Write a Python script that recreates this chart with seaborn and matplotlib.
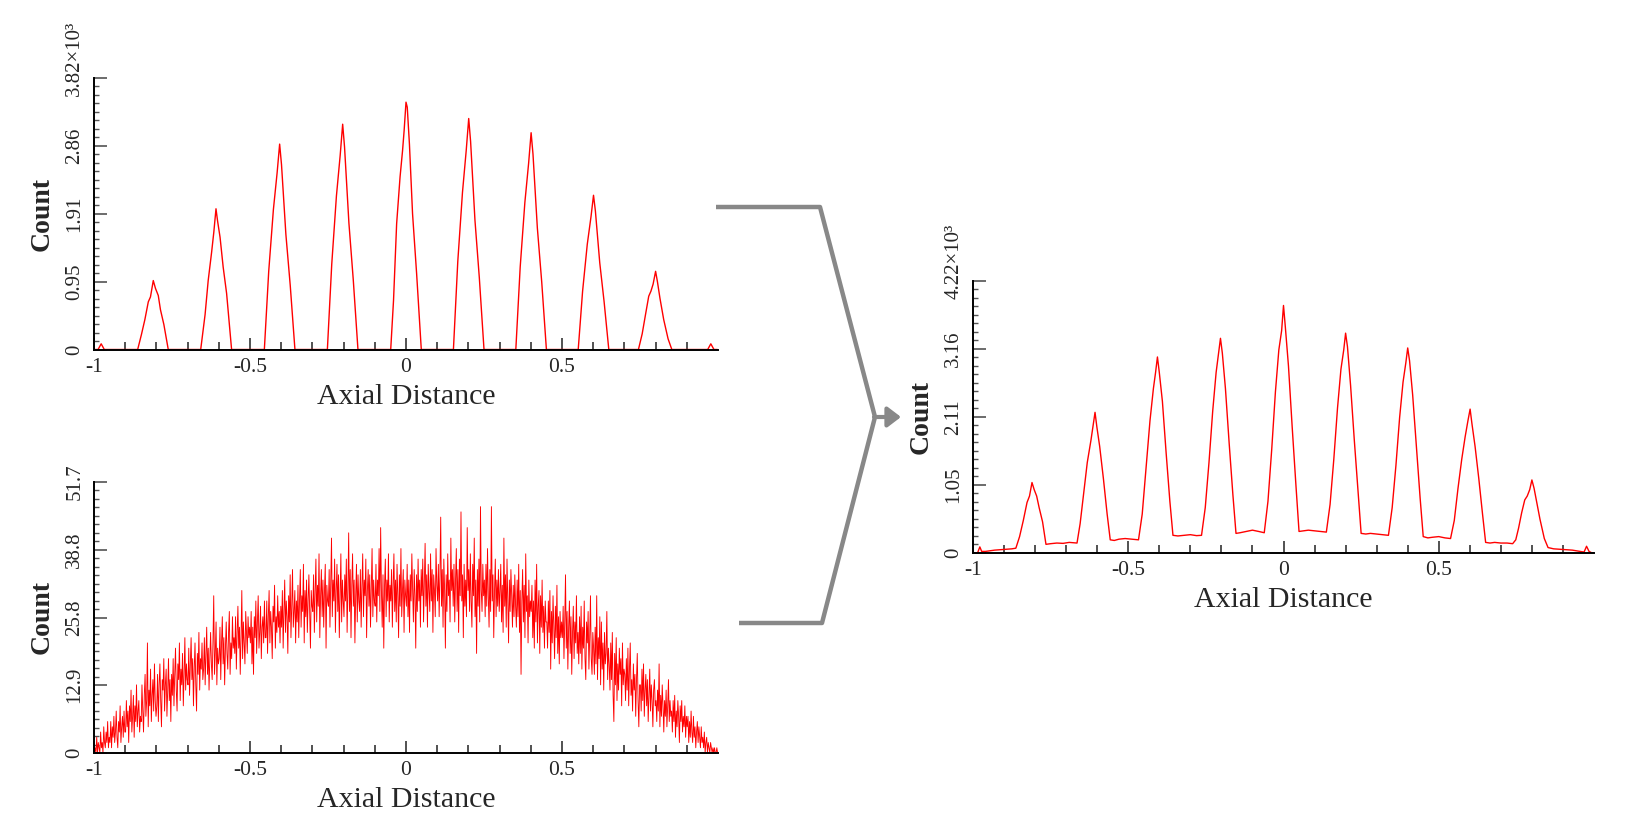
import numpy as np
import pandas as pd
import matplotlib
matplotlib.use("Agg")
import matplotlib.pyplot as plt
from matplotlib.lines import Line2D
from matplotlib.patches import FancyArrowPatch
from matplotlib.ticker import FixedLocator, AutoMinorLocator, NullFormatter
import seaborn as sns

# ---------------- data ----------------
# Top-left: peaked distribution (counts in units of 10^3)
peaks_x = [-1.0, -0.987, -0.977, -0.967,
           -0.860, -0.848, -0.837, -0.826, -0.819, -0.810, -0.803, -0.794, -0.787, -0.776, -0.762,
           -0.658, -0.644, -0.634, -0.623, -0.616, -0.609, -0.604, -0.596, -0.586, -0.575, -0.559,
           -0.454, -0.440, -0.425, -0.413, -0.405, -0.399, -0.385, -0.371, -0.356,
           -0.252, -0.238, -0.223, -0.211, -0.203, -0.197, -0.183, -0.169, -0.154,
           -0.049, -0.040, -0.030, -0.019, -0.011, -0.006, 0.0, 0.004, 0.011, 0.021, 0.034, 0.049,
           0.152, 0.166, 0.181, 0.193, 0.201, 0.207, 0.221, 0.235, 0.250,
           0.352, 0.366, 0.381, 0.393, 0.401, 0.407, 0.421, 0.435, 0.450,
           0.552, 0.566, 0.581, 0.593, 0.601, 0.607, 0.621, 0.635, 0.650,
           0.745, 0.757, 0.768, 0.778, 0.785, 0.792, 0.800, 0.806, 0.814, 0.826, 0.840, 0.852,
           0.967, 0.977, 0.987, 0.998]
peaks_count = [0.0, 0.0, 0.08, 0.0,
               0.0, 0.21, 0.42, 0.67, 0.74, 0.97, 0.86, 0.76, 0.56, 0.35, 0.0,
               0.0, 0.49, 0.97, 1.37, 1.65, 1.98, 1.81, 1.58, 1.16, 0.79, 0.0,
               0.0, 1.10, 1.97, 2.49, 2.89, 2.60, 1.62, 0.90, 0.0,
               0.0, 1.20, 2.16, 2.73, 3.17, 2.85, 1.78, 0.98, 0.0,
               0.0, 0.69, 1.77, 2.43, 2.80, 3.08, 3.48, 3.41, 2.89, 1.91, 1.07, 0.0,
               0.0, 1.24, 2.21, 2.80, 3.25, 2.93, 1.82, 1.01, 0.0,
               0.0, 1.16, 2.07, 2.62, 3.05, 2.75, 1.71, 0.95, 0.0,
               0.0, 0.82, 1.48, 1.87, 2.17, 1.95, 1.22, 0.67, 0.0,
               0.0, 0.22, 0.50, 0.75, 0.82, 0.92, 1.10, 0.95, 0.72, 0.42, 0.15, 0.0,
               0.0, 0.08, 0.0, 0.0]

# Bottom-left: broad noisy distribution (raw counts), 800 bins over [-1, 1]
broad_count = [
    0, 1, 0, 3, 0, 2, 1, 0, 4, 1, 2, 0, 5, 2, 1, 4, 2, 6, 1, 3,
    2, 6, 1, 5, 3, 7, 2, 4, 8, 3, 1, 6, 4, 9, 2, 5, 7, 3, 8, 4,
    4, 10, 5, 8, 2, 9, 6, 12, 4, 7, 11, 3, 9, 6, 13, 5, 8, 10, 4, 7,
    6, 13, 8, 4, 11, 15, 7, 10, 21, 5, 12, 9, 16, 6, 11, 14, 8, 17, 10, 7,
    9, 15, 6, 13, 17, 10, 5, 14, 12, 18, 8, 13, 16, 7, 12, 18, 10, 14, 6, 15,
    11, 18, 9, 15, 20, 12, 8, 17, 14, 21, 10, 16, 13, 19, 9, 15, 22, 12, 17, 14,
    13, 20, 11, 17, 22, 14, 18, 9, 16, 21, 13, 8, 19, 15, 23, 12, 18, 16, 21, 14,
    16, 22, 13, 19, 24, 15, 20, 12, 18, 23, 17, 14, 21, 30, 15, 19, 25, 13, 20, 17,
    18, 24, 14, 21, 26, 17, 22, 13, 20, 25, 19, 16, 23, 27, 15, 21, 18, 26, 20, 22,
    19, 26, 16, 23, 28, 20, 24, 15, 22, 31, 18, 25, 21, 17, 27, 23, 19, 26, 22, 24,
    21, 27, 17, 24, 15, 26, 22, 29, 19, 25, 30, 20, 23, 28, 18, 24, 26, 21, 29, 22,
    22, 29, 19, 26, 31, 21, 27, 24, 18, 28, 25, 32, 20, 26, 23, 30, 24, 27, 21, 28,
    24, 31, 20, 27, 33, 23, 29, 26, 19, 30, 25, 34, 22, 28, 35, 24, 27, 31, 21, 29,
    25, 32, 22, 29, 35, 24, 30, 27, 36, 21, 31, 26, 33, 23, 29, 34, 27, 20, 31, 28,
    27, 34, 23, 31, 37, 25, 32, 28, 38, 22, 30, 35, 26, 33, 24, 31, 36, 20, 32, 29,
    28, 35, 24, 32, 41, 26, 33, 29, 37, 23, 31, 36, 27, 34, 22, 30, 38, 25, 33, 29,
    26, 34, 29, 37, 23, 31, 42, 27, 35, 22, 32, 38, 28, 33, 21, 30, 36, 25, 34, 29,
    27, 35, 24, 32, 38, 26, 33, 30, 37, 22, 31, 35, 28, 34, 24, 32, 39, 26, 33, 29,
    28, 36, 25, 33, 30, 39, 27, 43, 31, 24, 34, 20, 32, 37, 26, 33, 29, 38, 25, 32,
    29, 35, 24, 32, 38, 27, 33, 25, 36, 30, 22, 34, 28, 39, 26, 31, 35, 23, 33, 30,
    28, 36, 26, 33, 23, 34, 29, 38, 31, 25, 35, 30, 20, 34, 27, 37, 29, 33, 24, 35,
    30, 37, 25, 33, 40, 28, 34, 24, 36, 31, 27, 38, 29, 35, 23, 34, 31, 26, 39, 32,
    29, 36, 26, 34, 45, 28, 35, 24, 37, 31, 20, 34, 27, 38, 30, 33, 25, 41, 31, 35,
    28, 36, 25, 33, 39, 27, 35, 23, 37, 30, 46, 29, 34, 22, 36, 28, 33, 26, 43, 31,
    35, 27, 38, 29, 24, 36, 30, 41, 26, 33, 19, 35, 28, 37, 25, 47, 31, 27, 36, 30,
    33, 26, 36, 28, 39, 30, 24, 35, 27, 47, 29, 34, 22, 31, 37, 26, 33, 28, 35, 27,
    31, 36, 25, 32, 23, 41, 28, 34, 24, 37, 29, 21, 33, 27, 35, 30, 24, 32, 26, 34,
    28, 24, 33, 26, 36, 23, 31, 15, 29, 35, 25, 32, 22, 38, 27, 30, 21, 33, 26, 29,
    27, 32, 22, 29, 20, 33, 25, 36, 21, 28, 31, 19, 30, 24, 33, 23, 28, 20, 29, 25,
    25, 20, 29, 23, 31, 16, 27, 21, 30, 24, 18, 28, 22, 32, 19, 26, 17, 27, 22, 25,
    22, 28, 18, 25, 34, 20, 27, 16, 24, 29, 19, 26, 15, 23, 28, 18, 25, 21, 30, 19,
    23, 17, 26, 19, 28, 16, 24, 20, 29, 18, 14, 25, 21, 27, 16, 22, 30, 18, 15, 23,
    20, 15, 24, 17, 30, 14, 22, 18, 26, 13, 25, 16, 21, 12, 23, 17, 19, 27, 14, 20,
    17, 12, 21, 14, 23, 11, 6, 19, 13, 22, 10, 17, 12, 20, 15, 18, 9, 21, 13, 16,
    15, 10, 18, 12, 20, 9, 16, 21, 11, 14, 8, 17, 12, 15, 7, 14, 19, 10, 5, 13,
    13, 8, 16, 10, 17, 7, 12, 15, 9, 14, 6, 11, 16, 8, 13, 10, 5, 12, 14, 9,
    10, 6, 12, 8, 17, 5, 11, 7, 13, 9, 4, 10, 7, 12, 5, 9, 14, 6, 10, 7,
    8, 4, 10, 6, 11, 3, 8, 5, 10, 7, 2, 9, 6, 10, 4, 7, 5, 9, 3, 7,
    5, 7, 2, 6, 3, 8, 4, 2, 7, 3, 5, 1, 4, 6, 2, 5, 3, 1, 5, 2,
    3, 1, 4, 0, 2, 3, 0, 2, 1, 0, 2, 1, 0, 1, 0, 1, 0, 0, 1, 0]
broad_x_range = (-0.99875, 0.99875)

# Right: combined distribution (counts in units of 10^3)
comb_x = [-1.0, -0.985, -0.978, -0.972, -0.96, -0.93, -0.90, -0.875, -0.862,
          -0.850, -0.838, -0.826, -0.818, -0.810, -0.803, -0.795, -0.787, -0.776, -0.765,
          -0.75, -0.73, -0.71, -0.69, -0.665,
          -0.655, -0.643, -0.632, -0.620, -0.613, -0.607, -0.601, -0.592, -0.580, -0.568, -0.558,
          -0.545, -0.53, -0.51, -0.49, -0.467,
          -0.455, -0.443, -0.430, -0.419, -0.412, -0.406, -0.400, -0.390, -0.378, -0.366, -0.356,
          -0.34, -0.32, -0.30, -0.28, -0.264,
          -0.252, -0.240, -0.228, -0.217, -0.209, -0.203, -0.197, -0.187, -0.175, -0.163, -0.153,
          -0.14, -0.12, -0.10, -0.08, -0.062,
          -0.050, -0.038, -0.026, -0.015, -0.006, 0.0, 0.006, 0.016, 0.028, 0.040, 0.050,
          0.065, 0.08, 0.10, 0.12, 0.138,
          0.150, 0.162, 0.174, 0.185, 0.194, 0.200, 0.206, 0.216, 0.228, 0.240, 0.250,
          0.265, 0.28, 0.30, 0.32, 0.338,
          0.350, 0.362, 0.374, 0.385, 0.394, 0.400, 0.406, 0.416, 0.428, 0.440, 0.450,
          0.465, 0.48, 0.50, 0.52, 0.538,
          0.550, 0.562, 0.574, 0.585, 0.594, 0.601, 0.607, 0.617, 0.629, 0.641, 0.651,
          0.665, 0.68, 0.70, 0.72, 0.738,
          0.748, 0.757, 0.767, 0.777, 0.785, 0.793, 0.800, 0.807, 0.815, 0.826, 0.840, 0.852,
          0.87, 0.90, 0.93, 0.955, 0.968, 0.976, 0.984, 0.992, 0.998]
comb_count = [0.0, 0.0, 0.09, 0.02, 0.02, 0.04, 0.05, 0.06, 0.07,
              0.25, 0.50, 0.78, 0.88, 1.09, 0.98, 0.88, 0.70, 0.48, 0.13,
              0.14, 0.15, 0.145, 0.16, 0.15,
              0.45, 0.95, 1.40, 1.75, 1.98, 2.18, 1.95, 1.65, 1.15, 0.60, 0.20,
              0.19, 0.21, 0.22, 0.21, 0.20,
              0.60, 1.30, 2.05, 2.55, 2.80, 3.04, 2.80, 2.35, 1.55, 0.80, 0.27,
              0.26, 0.27, 0.28, 0.265, 0.27,
              0.70, 1.40, 2.20, 2.80, 3.10, 3.33, 3.10, 2.55, 1.70, 0.90, 0.30,
              0.31, 0.33, 0.35, 0.33, 0.31,
              0.80, 1.60, 2.50, 3.15, 3.45, 3.84, 3.50, 2.90, 1.95, 1.05, 0.33,
              0.34, 0.35, 0.34, 0.33, 0.32,
              0.75, 1.45, 2.25, 2.85, 3.15, 3.41, 3.20, 2.60, 1.75, 0.95, 0.30,
              0.29, 0.30, 0.29, 0.28, 0.27,
              0.70, 1.35, 2.10, 2.65, 2.95, 3.18, 2.98, 2.45, 1.65, 0.85, 0.25,
              0.23, 0.24, 0.25, 0.23, 0.22,
              0.50, 1.00, 1.45, 1.80, 2.05, 2.23, 2.00, 1.65, 1.15, 0.60, 0.16,
              0.15, 0.16, 0.15, 0.15, 0.14,
              0.20, 0.38, 0.62, 0.82, 0.88, 0.98, 1.13, 1.00, 0.80, 0.52, 0.22, 0.08,
              0.06, 0.05, 0.04, 0.02, 0.01, 0.10, 0.02, 0.0, 0.0]

x_major = [-1, -0.5, 0, 0.5]
x_major_labels = ["-1", "-0.5", "0", "0.5"]
x_minor = [-0.9, -0.8, -0.7, -0.6, -0.4, -0.3, -0.2, -0.1,
           0.1, 0.2, 0.3, 0.4, 0.6, 0.7, 0.8, 0.9]
top_ticks = [0, 0.955, 1.91, 2.865, 3.82]
top_labels = ["0", "0.95", "1.91", "2.86", "3.82×10³"]
bot_ticks = [0, 12.925, 25.85, 38.775, 51.7]
bot_labels = ["0", "12.9", "25.8", "38.8", "51.7"]
right_ticks = [0, 1.055, 2.11, 3.165, 4.22]
right_labels = ["0", "1.05", "2.11", "3.16", "4.22×10³"]
x_label = "Axial Distance"
y_label = "Count"

# ---------------- style ----------------
sns.set_theme(style="white")
plt.rcParams['font.family'] = ['Liberation Serif', 'DejaVu Serif']
plt.rcParams['axes.unicode_minus'] = False

W, H = 1626, 840
fig = plt.figure(figsize=(W / 100, H / 100), dpi=100)

def px_axes(x0, y_top, x1, y_bot):
    return fig.add_axes([x0 / W, 1 - y_bot / H, (x1 - x0) / W, (y_bot - y_top) / H])

RED = "#ff0000"

def style_axes(ax, yticks, ylabels, ylim):
    ax.set_xlim(-1, 1)
    ax.set_ylim(*ylim)
    for s in ["top", "right"]:
        ax.spines[s].set_visible(False)
    for s in ["left", "bottom"]:
        ax.spines[s].set_color("black")
        ax.spines[s].set_linewidth(1.4)
    ax.xaxis.set_major_locator(FixedLocator(x_major))
    ax.set_xticklabels(x_major_labels)
    ax.xaxis.set_minor_locator(FixedLocator(x_minor))
    ax.yaxis.set_major_locator(FixedLocator(yticks))
    ax.yaxis.set_minor_locator(AutoMinorLocator(8))
    ax.yaxis.set_minor_formatter(NullFormatter())
    lab = list(ylabels)
    top_lab = lab[-1]
    lab[-1] = ""
    ax.set_yticklabels(lab)
    ax.tick_params(axis="x", which="major", direction="in", length=8.5, width=1.1,
                   color="#222222", labelsize=15.5, pad=6, bottom=True)
    ax.tick_params(axis="x", which="minor", direction="in", length=5.8, width=1.1,
                   color="#222222", bottom=True)
    ax.tick_params(axis="y", which="major", direction="in", length=9, width=1.1,
                   color="#444444", labelsize=15, pad=7, left=True)
    ax.tick_params(axis="y", which="minor", direction="in", length=3.6, width=1.0,
                   color="#555555", left=True)
    for t in ax.get_yticklabels():
        t.set_rotation(90)
        t.set_va("center")
        t.set_ha("right")
    ax.annotate(top_lab, xy=(0, yticks[-1]), xycoords=("axes fraction", "data"),
                xytext=(-7, -13.1), textcoords="offset points", rotation=90,
                rotation_mode="anchor", ha="left", va="bottom", fontsize=15,
                annotation_clip=False)
    ax.set_xlabel(x_label, fontsize=21.5, labelpad=5)
    ax.set_ylabel(y_label, fontsize=20, fontweight="bold", labelpad=8)
    ax.grid(False)
    ax.set_facecolor("white")

# Top-left
ax1 = px_axes(94, 78, 718, 349.5)
sns.lineplot(x=peaks_x, y=peaks_count, ax=ax1, color=RED, linewidth=1.0,
             estimator=None, sort=False)
style_axes(ax1, top_ticks, top_labels, (0, 3.82))

# Bottom-left
ax2 = px_axes(94, 482, 718, 753)
bx = np.linspace(broad_x_range[0], broad_x_range[1], len(broad_count))
sns.lineplot(x=bx, y=broad_count, ax=ax2, color=RED, linewidth=0.65,
             estimator=None, sort=False)
style_axes(ax2, bot_ticks, bot_labels, (0, 51.7))

# Right
ax3 = px_axes(973, 281, 1594, 552.7)
sns.lineplot(x=comb_x, y=comb_count, ax=ax3, color=RED, linewidth=1.0,
             estimator=None, sort=False)
style_axes(ax3, right_ticks, right_labels, (0, 4.22))

# Bracket with arrow
def fpt(x, y):
    return (x / W, 1 - y / H)

GRAY = "#888888"
pts = [fpt(716, 207), fpt(820, 207), fpt(875, 417), fpt(822, 623), fpt(739, 623)]
fig.add_artist(Line2D([p[0] for p in pts], [p[1] for p in pts], transform=fig.transFigure,
                      color=GRAY, linewidth=3.2, solid_joinstyle="round",
                      solid_capstyle="butt"))
arr = FancyArrowPatch(posA=fpt(874, 417), posB=fpt(901, 417), transform=fig.transFigure,
                      arrowstyle="-|>,head_length=0.5,head_width=0.38",
                      mutation_scale=16, color=GRAY, linewidth=3.0, shrinkA=0, shrinkB=0)
fig.add_artist(arr)

fig.savefig("out.png", dpi=100, facecolor="white")
